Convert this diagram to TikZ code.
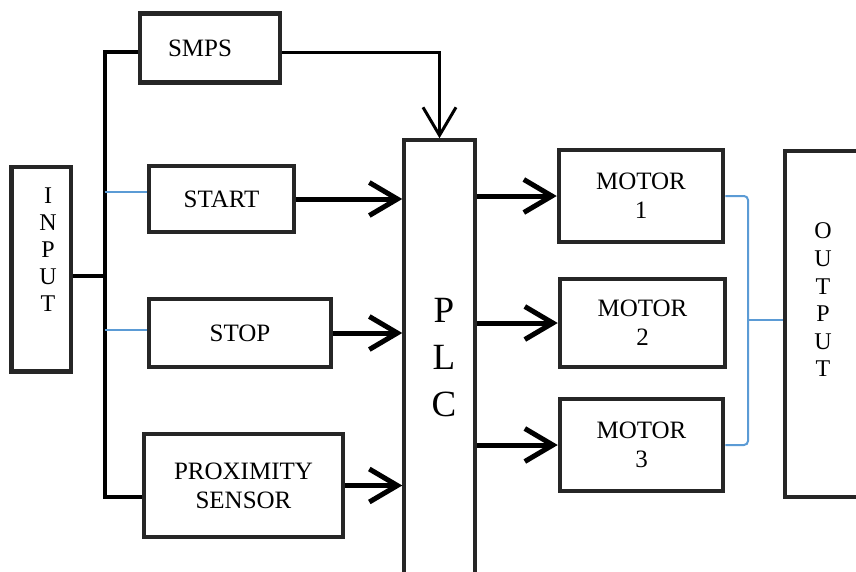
\documentclass[tikz,border=0pt]{standalone}
\usepackage{fontspec}
\setmainfont{Liberation Serif}
\usetikzlibrary{arrows.meta,positioning}
\definecolor{sigblue}{RGB}{91,155,213}

\begin{document}
\begin{tikzpicture}[
  x=1pt, y=-1pt,
  box/.style={draw=black!85, line width=4.5pt, inner sep=0pt, align=center,
              font=\fontsize{25}{29}\selectfont},
  vtext/.style={align=center, inner sep=0pt},
  ar/.style={-{Straight Barb[length=28pt,width=33pt]}, line width=5pt},
  bus/.style={line width=4pt},
  sig/.style={draw=sigblue, line width=2pt}
]
\useasboundingbox (0,0) rectangle (856,571);
% input side
\node[box, minimum width=59.5pt, minimum height=204.5pt] (inp) at (41,269) {};
\node[vtext, font=\fontsize{24}{27}\selectfont] (inptxt) at (48,250) {I\\N\\P\\U\\T};
\node[box, minimum width=140pt, minimum height=69pt] (smps) at (210,48) {};
\node[font=\fontsize{25}{29}\selectfont, inner sep=0pt] (smpstxt) at (200,48) {SMPS};
\node[box, minimum width=145pt, minimum height=66pt] (start) at (221.5,199) {START};
\node[box, minimum width=182pt, minimum height=68pt] (stop) at (240,333) {STOP};
\node[box, minimum width=199pt, minimum height=103pt] (prox) at (243.5,485.5) {PROXIMITY\\SENSOR};
% controller
\node[box, line width=3.5pt, minimum width=71pt, minimum height=460pt] (plc) at (439.5,370) {};
\node[vtext, font=\fontsize{37}{47}\selectfont] (plctxt) at (444,358) {P\\L\\C};
% output side
\node[box, minimum width=164pt, minimum height=92pt] (m1) at (641,196) {MOTOR\\1};
\node[box, minimum width=165pt, minimum height=88pt] (m2) at (642.5,323) {MOTOR\\2};
\node[box, minimum width=163pt, minimum height=92pt] (m3) at (641.5,445) {MOTOR\\3};
\node[box, minimum width=100pt, minimum height=346pt] (out) at (835,324) {};
\node[vtext, font=\fontsize{24}{27.6}\selectfont] (outtxt) at (823,300) {O\\U\\T\\P\\U\\T};

\coordinate (jtop) at (104.5,52);
\coordinate (jin) at (104.5,276);
\coordinate (jbot) at (104.5,497);
\coordinate (jstart) at (104.5,192);
\coordinate (jstop) at (104.5,330);
\coordinate (bx) at (748,320);

\draw[bus] (smps.west |- jtop) -- (jtop) -- (jbot) -- (prox.west |- jbot);
\draw[bus] (inp.east |- jin) -- (jin);
\draw[sig] (jstart) -- (jstart -| start.west);
\draw[sig] (jstop) -- (jstop -| stop.west);

\draw[ar, line width=3pt] (smps.east |- jtop) -| (plc.north);
\draw[ar] (start.east) -- (start.east -| plc.west);
\draw[ar] (stop.east) -- (stop.east -| plc.west);
\draw[ar] (prox.east) -- (prox.east -| plc.west);

\draw[ar] (plc.east |- m1) -- (m1.west);
\draw[ar] (plc.east |- m2) -- (m2.west);
\draw[ar] (plc.east |- m3) -- (m3.west);

\draw[sig, rounded corners=4pt] (m1.east) -| (bx) |- (m3.east);
\draw[sig] (bx) -- (bx -| out.west);
\end{tikzpicture}
\end{document}
